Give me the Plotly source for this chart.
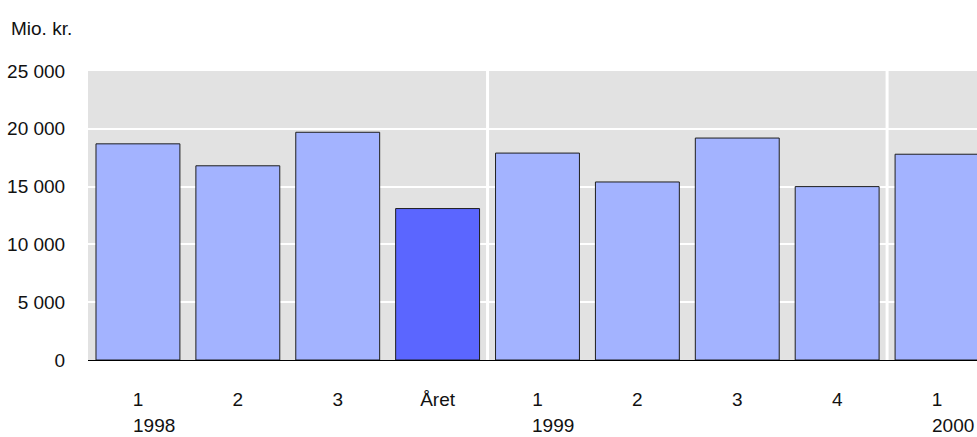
import plotly.graph_objects as go

years = ["1998", "1998", "1998", "1998", "1999", "1999", "1999", "1999", "2000"]
periods = ["1", "2", "3", "Året", "1", "2", "3", "4", "1"]
values = [18700, 16800, 19700, 13100, 17900, 15400, 19200, 15000, 17800]
y_ticks = [0, 5000, 10000, 15000, 20000, 25000]
unit_label = "Mio. kr."

LIGHT = "#A3B3FF"
DARK = "#5B66FF"
FONT = "Liberation Sans Narrow, Arial Narrow, Liberation Sans, Arial, sans-serif"
FS = 19

keys = [f"{y} {p}" for y, p in zip(years, periods)]
colors = [DARK if p == "Året" else LIGHT for p in periods]

fig = go.Figure(go.Bar(
    x=keys, y=values,
    marker=dict(color=colors, line=dict(color="#1e1e1e", width=1)),
    width=0.84,
))

shapes = []
annotations = []
for i, y in enumerate(years):
    if i == 0 or years[i - 1] != y:
        annotations.append(dict(
            x=keys[i], xref="x", y=0, yref="paper", text=y, showarrow=False,
            xanchor="left", yanchor="middle", xshift=-7, yshift=-65,
            font=dict(family=FONT, size=FS, color="#111"),
        ))
        if i > 0:
            shapes.append(dict(
                type="line", xref="x", yref="paper", x0=i - 0.5, x1=i - 0.5,
                y0=0, y1=1, line=dict(color="white", width=3), layer="below",
            ))

annotations.append(dict(
    x=0, xref="paper", y=1, yref="paper", text=unit_label, showarrow=False,
    xanchor="left", yanchor="middle", xshift=-79, yshift=43,
    font=dict(family=FONT, size=FS, color="#111"),
))

fig.update_layout(
    width=977, height=437,
    margin=dict(l=88, r=0, t=71, b=77, autoexpand=False),
    paper_bgcolor="white", plot_bgcolor="#E2E2E2",
    separators=", ",
    showlegend=False,
    font=dict(family=FONT, size=FS, color="#111"),
    shapes=shapes, annotations=annotations,
    bargap=0.16,
)
fig.update_xaxes(
    type="category", range=[-0.5, 8.4], automargin=False,
    tickvals=keys, ticktext=periods,
    ticks="outside", ticklen=22, tickcolor="rgba(0,0,0,0)",
    showgrid=False, showline=True, linecolor="black", linewidth=1,
    tickfont=dict(family=FONT, size=FS, color="#111"),
)
fig.update_yaxes(
    range=[0, 25000], tickvals=y_ticks, tickformat=",d", automargin=False,
    ticks="outside", ticklen=18, tickcolor="rgba(0,0,0,0)",
    showgrid=True, gridcolor="white", gridwidth=2,
    zeroline=False, showline=False,
    tickfont=dict(family=FONT, size=FS, color="#111"),
)

# remove the default 8px page margin so the figure fills the window exactly
fig.write_html(
    "out.html",
    config={"displayModeBar": False},
    post_script="document.body.style.margin='0';document.body.style.overflow='hidden';",
)
